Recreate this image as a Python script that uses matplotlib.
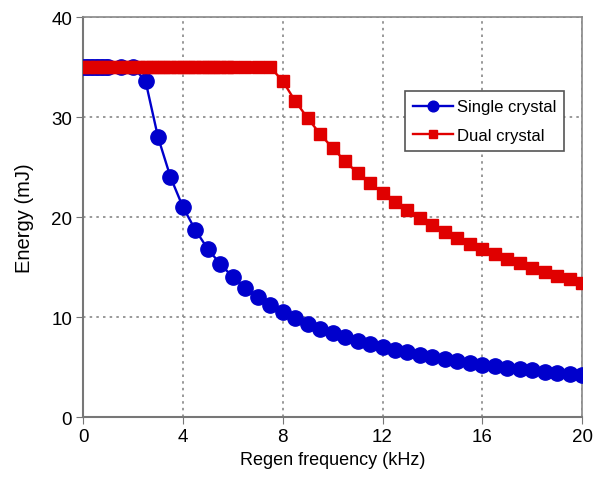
import numpy as np
import matplotlib.pyplot as plt

plt.rcParams['font.family'] = ['Liberation Sans', 'DejaVu Sans']

# Single crystal: pulse energy (mJ) vs regen frequency (kHz)
single_freq = [0, 0.1, 0.2, 0.3, 0.4, 0.5, 0.6, 0.7, 0.8, 0.9, 1.0, 1.5, 2.0,
               2.5, 3.0, 3.5, 4.0, 4.5, 5.0, 5.5, 6.0, 6.5, 7.0, 7.5, 8.0,
               8.5, 9.0, 9.5, 10.0, 10.5, 11.0, 11.5, 12.0, 12.5, 13.0, 13.5,
               14.0, 14.5, 15.0, 15.5, 16.0, 16.5, 17.0, 17.5, 18.0, 18.5,
               19.0, 19.5, 20.0]
single_energy = [35, 35, 35, 35, 35, 35, 35, 35, 35, 35, 35, 35, 35,
                 33.6, 28.0, 24.0, 21.0, 18.7, 16.8, 15.3, 14.0, 12.9, 12.0,
                 11.2, 10.5, 9.9, 9.3, 8.8, 8.4, 8.0, 7.6, 7.3, 7.0, 6.7,
                 6.5, 6.2, 6.0, 5.8, 5.6, 5.4, 5.25, 5.1, 4.9, 4.8, 4.7,
                 4.5, 4.4, 4.3, 4.2]

# Dual crystal
dual_freq = [0, 0.25, 0.5, 0.75, 1.0, 1.25, 1.5, 1.75, 2.0, 2.25, 2.5, 2.75,
             3.0, 3.25, 3.5, 3.75, 4.0, 4.25, 4.5, 4.75, 5.0, 5.25, 5.5,
             5.75, 6.0, 6.5, 7.0, 7.5, 8.0, 8.5, 9.0, 9.5, 10.0, 10.5, 11.0,
             11.5, 12.0, 12.5, 13.0, 13.5, 14.0, 14.5, 15.0, 15.5, 16.0,
             16.5, 17.0, 17.5, 18.0, 18.5, 19.0, 19.5, 20.0]
dual_energy = [35, 35, 35, 35, 35, 35, 35, 35, 35, 35, 35, 35,
               35, 35, 35, 35, 35, 35, 35, 35, 35, 35, 35,
               35, 35, 35, 35, 35, 33.6, 31.6, 29.9, 28.3, 26.9, 25.6, 24.4,
               23.4, 22.4, 21.5, 20.7, 19.9, 19.2, 18.5, 17.9, 17.3, 16.8,
               16.3, 15.8, 15.4, 14.9, 14.5, 14.1, 13.8, 13.4]

x_ticks = [0, 4, 8, 12, 16, 20]
y_ticks = [0, 10, 20, 30, 40]

fig = plt.figure(figsize=(5.94, 4.89), dpi=100)
ax = fig.add_axes([0.14, 0.145, 0.84, 0.818])

# single crystal underneath, dual crystal drawn over it
ax.plot(single_freq, single_energy, color='#0000cc', marker='o', markersize=11,
        linewidth=1.7, label='Single crystal', zorder=3)
ax.plot(dual_freq, dual_energy, color='#e00000', marker='s', markersize=9,
        linewidth=1.7, label='Dual crystal', zorder=4)

ax.set_xlim(0, 20)
ax.set_ylim(0, 40)
ax.set_xticks(x_ticks)
ax.set_yticks(y_ticks)
ax.tick_params(labelsize=13.5, direction='out', length=5, color='#777777', pad=3)
ax.set_xlabel('Regen frequency (kHz)', fontsize=13, labelpad=4)
ax.set_ylabel('Energy (mJ)', fontsize=14.5, labelpad=12)

ax.grid(True, linestyle=(0, (1.5, 2.5)), color='#888888', linewidth=1.2)
for side in ['left', 'bottom']:
    ax.spines[side].set_color('#777777')
    ax.spines[side].set_linewidth(1.5)
for side in ['top', 'right']:
    ax.spines[side].set_color('#888888')
    ax.spines[side].set_linewidth(1.2)

leg = ax.legend(loc='upper left', bbox_to_anchor=(0.645, 0.815),
                borderaxespad=0, fontsize=12, fancybox=False,
                edgecolor='#555555', framealpha=1, handlelength=2.4,
                markerscale=0.7, borderpad=0.5, labelspacing=0.8,
                handletextpad=0.2)
leg.get_frame().set_linewidth(1.2)

fig.savefig('out.png', dpi=100)
